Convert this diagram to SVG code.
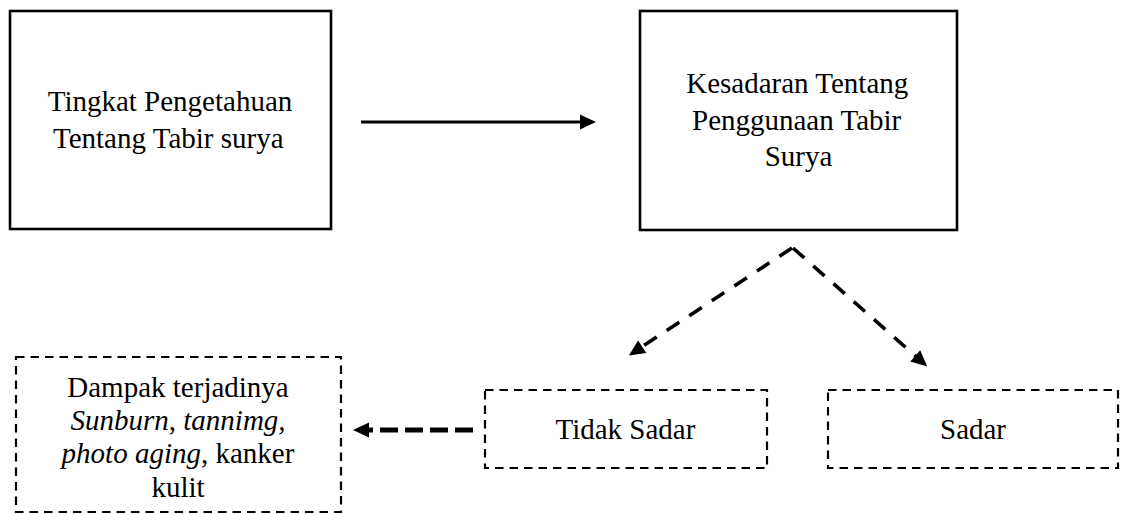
<svg xmlns="http://www.w3.org/2000/svg" width="1121" height="514" viewBox="0 0 1121 514">
<style>
.solid{fill:#fff;stroke:#000;stroke-width:2.6}
.dbox{fill:#fff;stroke:#000;stroke-width:2.2;stroke-dasharray:8.5 6}
.conn{fill:none;stroke:#000}
</style>
<defs>
<marker id="ah" markerUnits="userSpaceOnUse" markerWidth="20" markerHeight="20" refX="1" refY="0" orient="auto" overflow="visible">
<path d="M0,-7.5 L16,0 L0,7.5 z" fill="#000"/>
</marker>
</defs>
<g id="node-pengetahuan">
<rect class="solid" x="10" y="11" width="321" height="218"/>
<text x="47.7" y="111" style="font-family:'Liberation Serif';font-size:29px">Tingkat Pengetahuan</text>
<text x="53" y="148" style="font-family:'Liberation Serif';font-size:29px">Tentang Tabir surya</text>
</g>
<g id="node-kesadaran">
<rect class="solid" x="640" y="11" width="317" height="219"/>
<text x="686.2" y="93" style="font-family:'Liberation Serif';font-size:29px">Kesadaran Tentang</text>
<text x="692" y="130" style="font-family:'Liberation Serif';font-size:29px">Penggunaan Tabir</text>
<text x="764.7" y="166" style="font-family:'Liberation Serif';font-size:29px">Surya</text>
</g>
<g id="node-dampak">
<rect class="dbox" x="16" y="357" width="325" height="155"/>
<text x="67.3" y="397" style="font-family:'Liberation Serif';font-size:29px">Dampak terjadinya</text>
<text x="70.5" y="430" style="font-family:'Liberation Serif';font-size:29px"><tspan style="font-style:italic">Sunburn</tspan>, <tspan style="font-style:italic">tannimg,</tspan></text>
<text x="61.6" y="463" style="font-family:'Liberation Serif';font-size:29px"><tspan style="font-style:italic">photo aging</tspan>, kanker</text>
<text x="151.4" y="497" style="font-family:'Liberation Serif';font-size:29px">kulit</text>
</g>
<g id="node-tidak-sadar">
<rect class="dbox" x="485" y="390" width="282" height="78"/>
<text x="555.5" y="439" style="font-family:'Liberation Serif';font-size:29px">Tidak Sadar</text>
</g>
<g id="node-sadar">
<rect class="dbox" x="828" y="390" width="290" height="78"/>
<text x="940" y="439" style="font-family:'Liberation Serif';font-size:29px">Sadar</text>
</g>
<g id="connectors">
<line class="conn" x1="361" y1="122" x2="581" y2="122" stroke-width="3.2" marker-end="url(#ah)"/>
<line class="conn" x1="792" y1="248" x2="641.4" y2="347.2" stroke-width="3.6" stroke-dasharray="15 12" marker-end="url(#ah)"/>
<line class="conn" x1="793" y1="248" x2="916" y2="356.5" stroke-width="3.6" stroke-dasharray="15 12" marker-end="url(#ah)"/>
<line class="conn" x1="473" y1="430" x2="368" y2="430" stroke-width="5" stroke-dasharray="18 7" marker-end="url(#ah)"/>
</g>
</svg>
